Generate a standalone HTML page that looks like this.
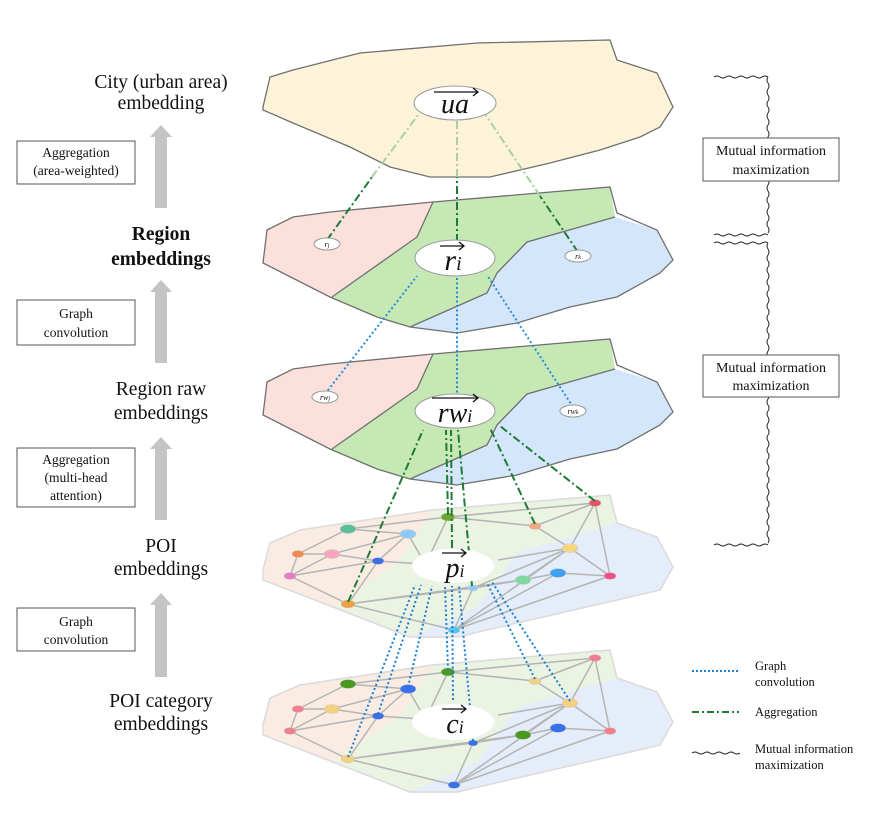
<!DOCTYPE html>
<html><head><meta charset="utf-8"><style>
body{margin:0;background:#fff}
svg{display:block}
text{font-family:"Liberation Serif",serif;fill:#111}
</style></head><body>
<svg width="887" height="825" viewBox="0 0 887 825" xmlns="http://www.w3.org/2000/svg">
<defs>
<g id="poishape">
  <path d="M263 570 L270 543 L300 530 L433 510 L610 495 L617 523 L657 537 L673 567 L660 590 L617 600 L517 623 L457 637 L410 637 L333 607 Z" fill="#ebf4e3" stroke="#dcdcdc" stroke-width="1.5"/>
  <path d="M263 570 L270 543 L300 530 L433 510 L400 560 L333 607 L263 580 Z" fill="#fbece3"/>
  <path d="M617 523 L657 537 L673 567 L660 590 L617 600 L517 623 L457 637 L410 637 L477 607 L517 553 Z" fill="#e4edf9"/>
  <path d="M263 570 L270 543 L300 530 L433 510 L610 495 L617 523 L657 537 L673 567 L660 590 L617 600 L517 623 L457 637 L410 637 L333 607 L263 580 Z" fill="none" stroke="#dcdcdc" stroke-width="1.5"/>
  <g stroke="#b4b4b4" stroke-width="1.5" fill="none">
    <path d="M298 554 L348 529 L448 517 L595 503 M348 529 L408 534 M448 517 L535 526 M298 554 L332 554 L408 534 M298 554 L290 576 L332 554 L378 561 L408 534 M290 576 L348 604 L378 561 M290 576 L378 561 M378 561 L453 566 M348 604 L473 588 M348 604 L454 630 M454 630 L473 588 M454 630 L570 548 M454 630 L558 573 M454 630 L610 576 M348 604 L523 580 M473 588 L570 548 M535 526 L595 503 M535 526 L570 548 M595 503 L570 548 M595 503 L610 576 M570 548 L610 576 M570 548 L523 580 M523 580 L558 573 L610 576 M448 517 L430 555 M408 534 L420 555 M498 560 L570 548 M473 588 L523 580"/>
  </g>
</g>
<g id="regshape">
  <path d="M267 230 L293 217 L330 212 L433 202 L417 237 L332 297 L263 263 Z" fill="#fbe0dc"/>
  <path d="M433 202 L610 187 L615 217 L527 242 L497 273 L487 293 L410 327 L377 317 L332 297 L417 237 Z" fill="#c5e8b5"/>
  <path d="M615 217 L657 230 L673 260 L660 273 L617 297 L570 307 L517 323 L457 333 L410 327 L487 293 L497 273 L527 242 Z" fill="#d4e6fa"/>
  <path d="M267 230 L293 217 L330 212 L433 202 L610 187 L617 213 L657 230 L673 260 L660 273 L617 297 L570 307 L517 323 L457 333 L410 327 L377 317 L330 297 L263 263 Z" fill="none" stroke="#707070" stroke-width="1.3"/>
  <path d="M433 202 L417 237 L332 297 M615 217 L527 242 L497 273 L487 293 L410 327" fill="none" stroke="#707070" stroke-width="1.3"/>
</g>
</defs>

<path d="M263 107 L270 77 L293 70 L360 53 L477 43 L610 40 L617 60 L657 73 L673 107 L660 127 L640 137 L600 150 L550 163 L490 177 L430 177 L390 167 L350 147 L293 123 L263 110 Z" fill="#fdf3d8" stroke="#707070" stroke-width="1.3"/>

<use href="#regshape"/>
<use href="#regshape" transform="translate(0,152)"/>
<use href="#poishape"/>
<use href="#poishape" transform="translate(0,155)"/>

<g stroke="#ccc" stroke-width="0.5">
<ellipse cx="448" cy="517" rx="7" ry="4" fill="#6aa82a"/>
<ellipse cx="348" cy="529" rx="8" ry="4.5" fill="#5dbf9a"/>
<ellipse cx="408" cy="534" rx="8" ry="4.5" fill="#8ec9f5"/>
<ellipse cx="298" cy="554" rx="6" ry="3.5" fill="#f08a50"/>
<ellipse cx="332" cy="554" rx="8" ry="4.5" fill="#f4a6c0"/>
<ellipse cx="378" cy="561" rx="6" ry="3.5" fill="#3d6fe0"/>
<ellipse cx="290" cy="576" rx="6" ry="3.5" fill="#e57bc4"/>
<ellipse cx="348" cy="604" rx="7" ry="4" fill="#f0a040"/>
<ellipse cx="535" cy="526" rx="6" ry="3.5" fill="#f0a880"/>
<ellipse cx="595" cy="503" rx="6" ry="3.5" fill="#e8506a"/>
<ellipse cx="570" cy="548" rx="8" ry="4.5" fill="#f5d780"/>
<ellipse cx="558" cy="573" rx="8" ry="4.5" fill="#3da0f0"/>
<ellipse cx="523" cy="580" rx="8" ry="4.5" fill="#7ed8a0"/>
<ellipse cx="610" cy="576" rx="6" ry="3.5" fill="#f0508a"/>
<ellipse cx="473" cy="588" rx="5" ry="3" fill="#8ec9f5"/>
<ellipse cx="454" cy="630" rx="6" ry="3.5" fill="#4ec8f0"/>
</g>
<g stroke="#ccc" stroke-width="0.5">
<ellipse cx="448" cy="672" rx="7" ry="4" fill="#4a9a20"/>
<ellipse cx="348" cy="684" rx="8" ry="4.5" fill="#4a9a20"/>
<ellipse cx="408" cy="689" rx="8" ry="4.5" fill="#3a70e8"/>
<ellipse cx="298" cy="709" rx="6" ry="3.5" fill="#f08090"/>
<ellipse cx="332" cy="709" rx="8" ry="4.5" fill="#f5d080"/>
<ellipse cx="378" cy="716" rx="6" ry="3.5" fill="#3a70e8"/>
<ellipse cx="290" cy="731" rx="6" ry="3.5" fill="#f08090"/>
<ellipse cx="348" cy="759" rx="7" ry="4" fill="#f5d080"/>
<ellipse cx="535" cy="681" rx="6" ry="3.5" fill="#f5d080"/>
<ellipse cx="595" cy="658" rx="6" ry="3.5" fill="#f08090"/>
<ellipse cx="570" cy="703" rx="8" ry="4.5" fill="#f5d080"/>
<ellipse cx="558" cy="728" rx="8" ry="4.5" fill="#3a70e8"/>
<ellipse cx="523" cy="735" rx="8" ry="4.5" fill="#4a9a20"/>
<ellipse cx="610" cy="731" rx="6" ry="3.5" fill="#f08090"/>
<ellipse cx="473" cy="743" rx="5" ry="3" fill="#3a70e8"/>
<ellipse cx="454" cy="785" rx="6" ry="3.5" fill="#3a70e8"/>
</g>

<g fill="none" stroke-width="2" stroke-dasharray="8 3 2 3">
  <path d="M327 240 L372 177" stroke="#1e7a36"/>
  <path d="M372 177 L418 115" stroke="#a8d0a0"/>
  <path d="M457 242 L457 177" stroke="#1e7a36"/>
  <path d="M457 177 L457 121" stroke="#a8d0a0"/>
  <path d="M578 252 L540 196" stroke="#1e7a36"/>
  <path d="M540 196 L485 114" stroke="#a8d0a0"/>
</g>
<g fill="none" stroke="#2a8ad8" stroke-width="2" stroke-dasharray="2 2.5">
  <path d="M325 394 L417 276"/>
  <path d="M457 397 L457 277"/>
  <path d="M573 407 L487 275"/>
</g>
<g fill="none" stroke="#1e7a36" stroke-width="2" stroke-dasharray="8 3 2 3">
  <path d="M348 602 L423 430"/>
  <path d="M448 515 L446 430"/>
  <path d="M452 548 L451 430"/>
  <path d="M472 586 L458 430"/>
  <path d="M535 524 L490 428"/>
  <path d="M595 501 L500 426"/>
</g>
<g fill="none" stroke="#1a7fd0" stroke-width="2" stroke-dasharray="2 2.5">
  <path d="M348 757 L415 585"/>
  <path d="M378 714 L421 585"/>
  <path d="M408 687 L432 586"/>
  <path d="M448 670 L445 586"/>
  <path d="M453 700 L452 586"/>
  <path d="M473 741 L459 586"/>
  <path d="M535 679 L487 583"/>
  <path d="M570 701 L492 582"/>
</g>

<g fill="#fff" stroke="#999" stroke-width="1">
<ellipse cx="455" cy="103" rx="41" ry="17"/>
<ellipse cx="455" cy="258" rx="40" ry="18"/>
<ellipse cx="455" cy="411" rx="40" ry="17"/>
<ellipse cx="453" cy="566" rx="41" ry="17" stroke="none"/>
<ellipse cx="453" cy="722" rx="41" ry="18" stroke="none"/>
<ellipse cx="327" cy="244" rx="13" ry="6"/>
<ellipse cx="578" cy="256" rx="13" ry="6"/>
<ellipse cx="325" cy="397" rx="13" ry="6"/>
<ellipse cx="573" cy="411" rx="13" ry="6"/>
</g>
<g font-style="italic" text-anchor="middle">
<text x="455" y="113" font-size="28">ua</text>
<text x="453" y="270" font-size="30">r<tspan font-size="20">i</tspan></text>
<text x="455" y="422" font-size="28">rw<tspan font-size="18">i</tspan></text>
<text x="455" y="577" font-size="28">p<tspan font-size="18">i</tspan></text>
<text x="455" y="733" font-size="28">c<tspan font-size="18">i</tspan></text>
<text x="327" y="247" font-size="8">r<tspan font-size="6">j</tspan></text>
<text x="578" y="259" font-size="8">r<tspan font-size="6">k</tspan></text>
<text x="325" y="400" font-size="8">rw<tspan font-size="6">j</tspan></text>
<text x="573" y="414" font-size="8">rw<tspan font-size="6">k</tspan></text>
</g>
<g stroke="#111" stroke-width="1.3" fill="none">
<path d="M434 92 L478 92 M473 88 L478 92 L473 96"/>
<path d="M440 246 L464 246 M459 242 L464 246 L459 250"/>
<path d="M432 398 L478 398 M473 394 L478 398 L473 402"/>
<path d="M442 553 L466 553 M461 549 L466 553 L461 557"/>
<path d="M442 709 L466 709 M461 705 L466 709 L461 713"/>
</g>

<g text-anchor="middle" font-size="19.5">
<text x="161" y="88">City (urban area)</text>
<text x="161" y="109">embedding</text>
<text x="161" y="240" font-weight="bold">Region</text>
<text x="161" y="265" font-weight="bold">embeddings</text>
<text x="161" y="395">Region raw</text>
<text x="161" y="419">embeddings</text>
<text x="161" y="552">POI</text>
<text x="161" y="575">embeddings</text>
<text x="161" y="707">POI category</text>
<text x="161" y="730">embeddings</text>
</g>
<g fill="#fff" stroke="#555" stroke-width="1">
<rect x="17" y="141" width="118" height="43"/>
<rect x="17" y="300" width="118" height="45"/>
<rect x="17" y="448" width="118" height="59"/>
<rect x="17" y="608" width="118" height="43"/>
</g>
<g text-anchor="middle" font-size="13.5">
<text x="76" y="157">Aggregation</text>
<text x="76" y="175">(area-weighted)</text>
<text x="76" y="318">Graph</text>
<text x="76" y="337">convolution</text>
<text x="76" y="464">Aggregation</text>
<text x="76" y="482">(multi-head</text>
<text x="76" y="500">attention)</text>
<text x="76" y="626">Graph</text>
<text x="76" y="644">convolution</text>
</g>
<g fill="#c4c4c4">
<path d="M155 208 L155 137 L150 137 L161 125 L172 137 L167 137 L167 208 Z"/>
<path d="M155 363 L155 292 L150 292 L161 280 L172 292 L167 292 L167 363 Z"/>
<path d="M155 520 L155 449 L150 449 L161 437 L172 449 L167 449 L167 520 Z"/>
<path d="M155 677 L155 605 L150 605 L161 593 L172 605 L167 605 L167 677 Z"/>
</g>

<g fill="none" stroke="#222" stroke-width="1">
<path d="M714 77 q3 -2 6 0 t6 0 t6 0 t6 0 t6 0 t6 0 t6 0 t6 0 t6 0"/>
<path d="M768 77 q-2 3 0 6 t0 6 t0 6 t0 6 t0 6 t0 6 t0 6 t0 6 t0 6 t0 6 t0 6 t0 6 t0 6 t0 6 t0 6 t0 6 t0 6 t0 6 t0 6 t0 6 t0 6 t0 6 t0 6 t0 6 t0 6 t0 6"/>
<path d="M714 235 q3 -2 6 0 t6 0 t6 0 t6 0 t6 0 t6 0 t6 0 t6 0 t6 0"/>
<path d="M714 243 q3 -2 6 0 t6 0 t6 0 t6 0 t6 0 t6 0 t6 0 t6 0 t6 0"/>
<path d="M768 243 q-2 3 0 6 t0 6 t0 6 t0 6 t0 6 t0 6 t0 6 t0 6 t0 6 t0 6 t0 6 t0 6 t0 6 t0 6 t0 6 t0 6 t0 6 t0 6 t0 6 t0 6 t0 6 t0 6 t0 6 t0 6 t0 6 t0 6 t0 6 t0 6 t0 6 t0 6 t0 6 t0 6 t0 6 t0 6 t0 6 t0 6 t0 6 t0 6 t0 6 t0 6 t0 6 t0 6 t0 6 t0 6 t0 6 t0 6 t0 6 t0 6 t0 6 t0 6"/>
<path d="M714 545 q3 -2 6 0 t6 0 t6 0 t6 0 t6 0 t6 0 t6 0 t6 0 t6 0"/>
</g>
<g fill="#fff" stroke="#555" stroke-width="1">
<rect x="703" y="138" width="136" height="43"/>
<rect x="703" y="355" width="136" height="42"/>
</g>
<g text-anchor="middle" font-size="14">
<text x="771" y="155">Mutual information</text>
<text x="771" y="174">maximization</text>
<text x="771" y="372">Mutual information</text>
<text x="771" y="390">maximization</text>
</g>

<path d="M692 671 L739 671" stroke="#1a7fd0" stroke-width="2" stroke-dasharray="2 2"/>
<path d="M692 712 L739 712" stroke="#1e7a36" stroke-width="2" stroke-dasharray="7 3 2 3"/>
<path d="M692 753 q3 -2 6 0 t6 0 t6 0 t6 0 t6 0 t6 0 t6 0 t6 0" fill="none" stroke="#222"/>
<g font-size="12.5">
<text x="755" y="670">Graph</text>
<text x="755" y="686">convolution</text>
<text x="755" y="716">Aggregation</text>
<text x="755" y="753">Mutual information</text>
<text x="755" y="769">maximization</text>
</g>
</svg>
</body></html>
